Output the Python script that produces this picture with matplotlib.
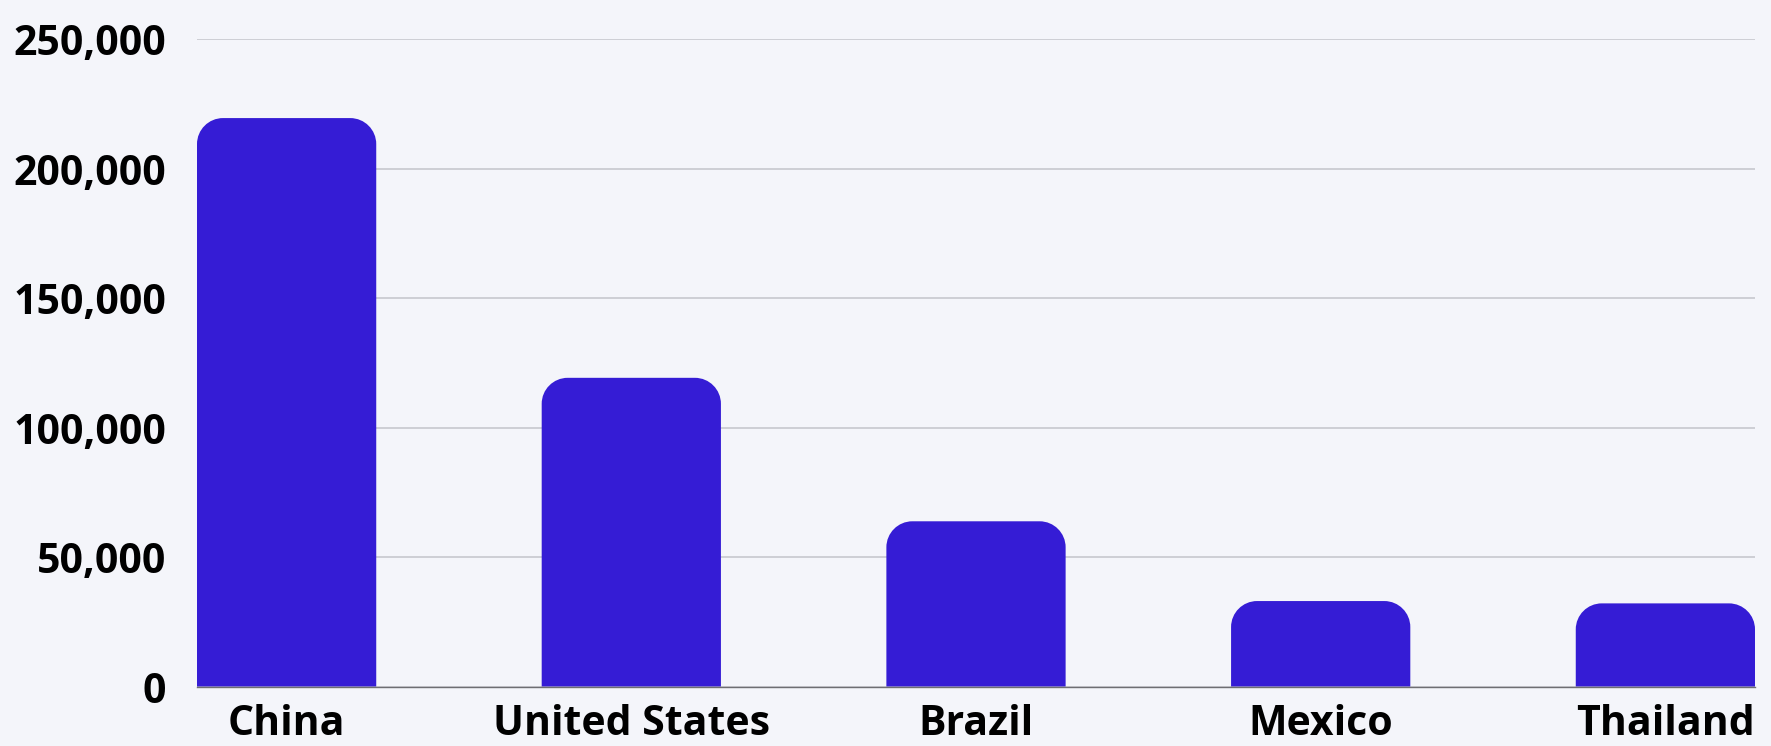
import numpy as np
import matplotlib.pyplot as plt
from matplotlib.path import Path
from matplotlib.patches import PathPatch
from matplotlib.ticker import FuncFormatter

countries = ["China", "United States", "Brazil", "Mexico", "Thailand"]
values = [219500, 119200, 63800, 33000, 32100]
yticks = [0, 50000, 100000, 150000, 200000, 250000]

BAR_COLOR = "#351CD5"
BG = "#F4F5FA"
GRID = "#CACBD2"
BAR_W = 0.52
RADIUS_PX = 26

plt.rcParams["font.family"] = ["Open Sans", "DejaVu Sans"]

fig = plt.figure(figsize=(17.71, 7.469), dpi=100, facecolor=BG)
ax = fig.add_axes([197 / 1771, 1 - 687.5 / 747, (1755 - 197) / 1771, (687.5 - 40) / 747])
ax.set_facecolor(BG)

x = np.arange(len(countries))
ax.set_xlim(-BAR_W / 2, len(countries) - 1 + BAR_W / 2)
ax.set_ylim(0, 250000)

# pixel -> data scale for the rounded corners
fig_w, fig_h = fig.get_size_inches() * fig.dpi
bbox = ax.get_position()
px_per_x = bbox.width * fig_w / (ax.get_xlim()[1] - ax.get_xlim()[0])
px_per_y = bbox.height * fig_h / (ax.get_ylim()[1] - ax.get_ylim()[0])
k = 0.5523

for xi, v in zip(x, values):
    x0, x1 = xi - BAR_W / 2, xi + BAR_W / 2
    rx = RADIUS_PX / px_per_x
    ry = min(RADIUS_PX / px_per_y, v)
    verts = [
        (x0, 0), (x0, v - ry),
        (x0, v - ry + k * ry), (x0 + rx - k * rx, v), (x0 + rx, v),
        (x1 - rx, v),
        (x1 - rx + k * rx, v), (x1, v - ry + k * ry), (x1, v - ry),
        (x1, 0), (x0, 0),
    ]
    codes = [Path.MOVETO, Path.LINETO,
             Path.CURVE4, Path.CURVE4, Path.CURVE4,
             Path.LINETO,
             Path.CURVE4, Path.CURVE4, Path.CURVE4,
             Path.LINETO, Path.CLOSEPOLY]
    ax.add_patch(PathPatch(Path(verts, codes), facecolor=BAR_COLOR, edgecolor="none", zorder=3))

ax.set_yticks(yticks)
ax.yaxis.set_major_formatter(FuncFormatter(lambda v, p: f"{int(v):,}"))
ax.set_xticks(x)
ax.set_xticklabels(countries)

for lab in ax.get_xticklabels() + ax.get_yticklabels():
    lab.set_fontweight("bold")
    lab.set_fontsize(29.5)
    lab.set_color("black")

ax.tick_params(axis="y", length=0, pad=22)
ax.tick_params(axis="x", length=0, pad=12)

ax.grid(axis="y", color=GRID, linewidth=1.3, zorder=0)
ax.set_axisbelow(True)
for s in ["top", "right", "left"]:
    ax.spines[s].set_visible(False)
ax.spines["bottom"].set_color("#6E6E72")
ax.spines["bottom"].set_linewidth(1.0)
ax.spines["bottom"].set_zorder(4)

fig.savefig("out.png", dpi=100, facecolor=BG)
